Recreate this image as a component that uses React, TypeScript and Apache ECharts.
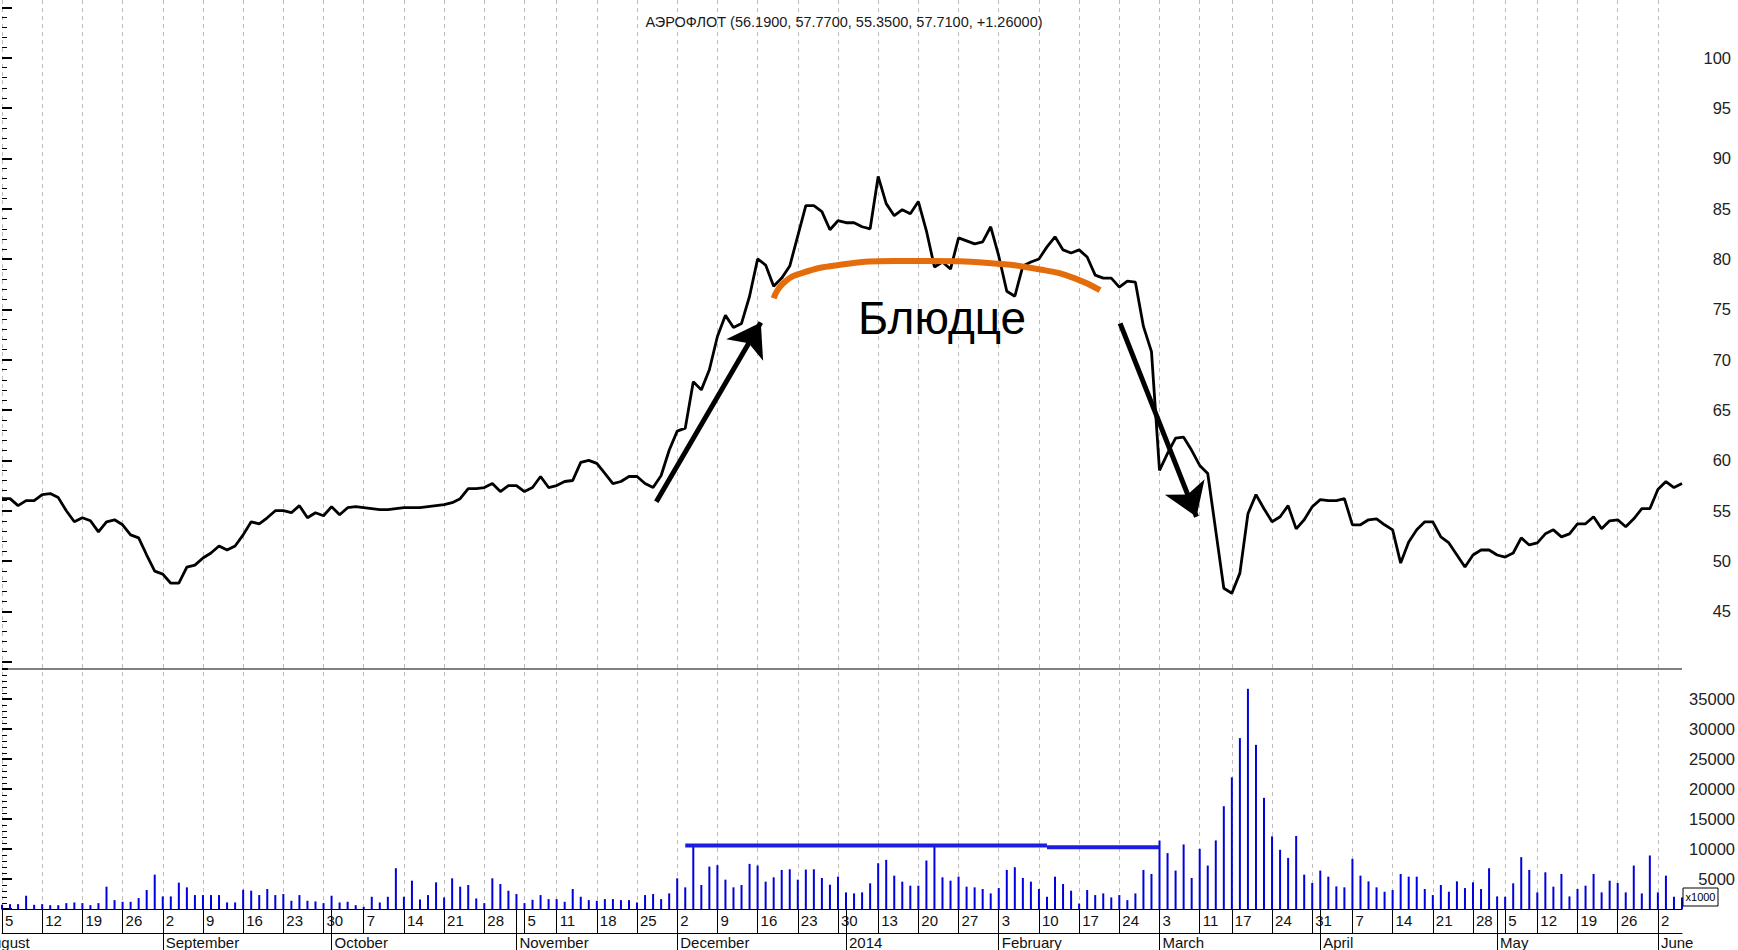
import React, { useEffect, useRef } from 'react';
import * as echarts from 'echarts';

// ---------- DATA ----------
const TITLE = 'АЭРОФЛОТ (56.1900, 57.7700, 55.3500, 57.7100, +1.26000)';

// trading days by month (Moscow Exchange calendar)
const monthDays: [string, number[]][] = [
  ['2013-08', [5, 6, 7, 8, 9, 12, 13, 14, 15, 16, 19, 20, 21, 22, 23, 26, 27, 28, 29, 30]],
  ['2013-09', [2, 3, 4, 5, 6, 9, 10, 11, 12, 13, 16, 17, 18, 19, 20, 23, 24, 25, 26, 27, 30]],
  ['2013-10', [1, 2, 3, 4, 7, 8, 9, 10, 11, 14, 15, 16, 17, 18, 21, 22, 23, 24, 25, 28, 29, 30, 31]],
  ['2013-11', [1, 5, 6, 7, 8, 11, 12, 13, 14, 15, 18, 19, 20, 21, 22, 25, 26, 27, 28, 29]],
  ['2013-12', [2, 3, 4, 5, 6, 9, 10, 11, 12, 13, 16, 17, 18, 19, 20, 23, 24, 25, 26, 27, 30]],
  ['2014-01', [3, 6, 9, 10, 13, 14, 15, 16, 17, 20, 21, 22, 23, 24, 27, 28, 29, 30, 31]],
  ['2014-02', [3, 4, 5, 6, 7, 10, 11, 12, 13, 14, 17, 18, 19, 20, 21, 24, 25, 26, 27, 28]],
  ['2014-03', [3, 4, 5, 6, 7, 11, 12, 13, 14, 17, 18, 19, 20, 21, 24, 25, 26, 27, 28, 31]],
  ['2014-04', [1, 2, 3, 4, 7, 8, 9, 10, 11, 14, 15, 16, 17, 18, 21, 22, 23, 24, 25, 28, 29, 30]],
  ['2014-05', [2, 5, 6, 7, 8, 12, 13, 14, 15, 16, 19, 20, 21, 22, 23, 26, 27, 28, 29, 30]],
  ['2014-06', [2, 3, 4, 5]],
];

// week tick labels (first trading day of each labelled week)
const weekStarts = [
  '2013-08-05', '2013-08-12', '2013-08-19', '2013-08-26', '2013-09-02', '2013-09-09', '2013-09-16',
  '2013-09-23', '2013-09-30', '2013-10-07', '2013-10-14', '2013-10-21', '2013-10-28', '2013-11-05',
  '2013-11-11', '2013-11-18', '2013-11-25', '2013-12-02', '2013-12-09', '2013-12-16', '2013-12-23',
  '2013-12-30', '2014-01-13', '2014-01-20', '2014-01-27', '2014-02-03', '2014-02-10', '2014-02-17',
  '2014-02-24', '2014-03-03', '2014-03-11', '2014-03-17', '2014-03-24', '2014-03-31', '2014-04-07',
  '2014-04-14', '2014-04-21', '2014-04-28', '2014-05-05', '2014-05-12', '2014-05-19', '2014-05-26',
  '2014-06-02',
];

const monthStarts: [string, string][] = [
  ['2013-09-02', 'September'], ['2013-10-01', 'October'], ['2013-11-01', 'November'],
  ['2013-12-02', 'December'], ['2014-01-03', '2014'], ['2014-02-03', 'February'],
  ['2014-03-03', 'March'], ['2014-04-01', 'April'], ['2014-05-02', 'May'], ['2014-06-02', 'June'],
];

// close prices
const prices = [
  56.2, 56.2, 55.5, 56.0, 56.0, 56.6, 56.7, 56.3, 55.0, 53.9,
  54.3, 54.0, 52.9, 53.9, 54.1, 53.6, 52.6, 52.3, 50.6, 49.0,
  48.7, 47.8, 47.8, 49.4, 49.6, 50.3, 50.8, 51.5, 51.1, 51.5,
  52.6, 53.9, 53.7, 54.3, 55.0, 55.0, 54.8, 55.5, 54.3, 54.8,
  54.5, 55.4, 54.6, 55.3, 55.4, 55.3, 55.2, 55.1, 55.1, 55.2,
  55.3, 55.3, 55.3, 55.4, 55.5, 55.6, 55.8, 56.2, 57.2, 57.2,
  57.3, 57.7, 56.9, 57.5, 57.5, 56.9, 57.3, 58.4, 57.3, 57.5,
  57.9, 58.0, 59.8, 60.0, 59.7, 58.7, 57.7, 57.9, 58.4, 58.4,
  57.7, 57.3, 58.5, 61.0, 62.9, 63.2, 67.8, 67.0, 69.0, 72.3,
  74.4, 73.2, 73.6, 76.3, 80.0, 79.4, 77.3, 78.1, 79.3, 82.3,
  85.3, 85.3, 84.7, 82.9, 83.8, 83.6, 83.6, 83.2, 83.0, 88.2,
  85.5, 84.3, 84.9, 84.5, 85.7, 82.8, 79.2, 79.7, 79.0, 82.1,
  81.8, 81.5, 81.7, 83.2, 80.3, 76.8, 76.3, 79.3, 79.7, 80.0,
  81.2, 82.2, 80.9, 80.6, 80.9, 80.2, 78.4, 78.1, 78.1, 77.2,
  77.8, 77.7, 73.3, 70.8, 59.0, 60.7, 62.2, 62.3, 61.0, 59.5,
  58.7, 53.0, 47.3, 46.8, 48.8, 54.7, 56.6, 55.2, 53.9, 54.4,
  55.5, 53.2, 54.1, 55.4, 56.1, 56.0, 56.0, 56.2, 53.6, 53.6,
  54.1, 54.2, 53.6, 53.1, 49.8, 51.9, 53.1, 53.9, 53.9, 52.4,
  51.8, 50.6, 49.4, 50.6, 51.1, 51.1, 50.6, 50.4, 50.8, 52.3,
  51.6, 51.8, 52.7, 53.1, 52.4, 52.7, 53.7, 53.7, 54.4, 53.2,
  54.0, 54.1, 53.4, 54.2, 55.2, 55.2, 57.1, 57.9, 57.3, 57.7,
];

// volume, x1000
const volumes = [
  700, 810, 810, 2210, 700, 810, 640, 640, 980, 1090,
  980, 640, 980, 3720, 1480, 1200, 1200, 1820, 3160, 5730,
  2100, 2100, 4390, 3610, 2320, 2320, 2320, 2320, 1090, 1090,
  3210, 3050, 2320, 3330, 2320, 2490, 1370, 2320, 1370, 1260,
  980, 2210, 1090, 1200, 640, 360, 2040, 1090, 2040, 6790,
  2040, 4720, 1590, 2320, 4440, 1930, 5110, 3720, 4000, 1760,
  980, 5110, 4160, 3050, 2490, 980, 1540, 2320, 1650, 1650,
  1200, 3330, 2040, 1480, 1370, 1650, 1650, 1480, 1480, 1090,
  2320, 2490, 1650, 2600, 5110, 3610, 10600, 4000, 7070, 7300,
  4890, 3610, 4000, 7520, 7240, 4560, 5280, 6510, 6620, 4890,
  6570, 6620, 5170, 4050, 5390, 2770, 2600, 2770, 4280, 7630,
  8190, 5560, 4560, 3890, 3890, 8080, 10600, 5280, 4720, 5390,
  3720, 3610, 3330, 2600, 3490, 6510, 6960, 5170, 4560, 3330,
  2040, 5390, 4160, 3050, 920, 3160, 2320, 2600, 1930, 2320,
  1480, 2600, 6510, 5840, 11400, 9310, 6400, 10760, 5170, 10030,
  7240, 11430, 17130, 21940, 28480, 36700, 27360, 18530, 12100, 9870,
  8520, 12160, 5730, 4330, 6400, 5390, 3770, 3610, 8360, 5560,
  4610, 3610, 2880, 3160, 5840, 5390, 5390, 3330, 2320, 4000,
  2880, 4610, 3490, 4440, 3330, 6790, 2100, 2040, 4280, 8640,
  6510, 2770, 6120, 3720, 5840, 2100, 3330, 3890, 5840, 2770,
  4720, 4330, 2770, 7240, 2600, 8920, 2770, 5560, 2040, 1930,
];

// horizontal volume levels drawn on the volume panel
const volumeLevels = [
  { from: '2013-12-03', to: '2014-02-11', value: 10600 },
  { from: '2014-02-11', to: '2014-03-03', value: 10300 },
];

// annotations in (trading-day index, price) units
const saucerArc: [number, number][] = [
  [96.0, 76.1], [97.2, 77.6], [99.5, 78.6], [104.1, 79.4], [111.1, 79.8],
  [115.7, 79.8], [122.7, 79.6], [129.6, 78.9], [133.4, 78.1], [136.6, 76.9],
];
const arrowLines: [number, number][][] = [
  [[81.4, 55.9], [94.4, 73.7]],
  [[139.1, 73.6], [148.6, 54.4]],
];
const SAUCER_LABEL = 'Блюдце';

// ---------- CHART ----------
const FONT = '"Liberation Sans", Arial, Helvetica, sans-serif';

export default function App() {
  const ref = useRef<HTMLDivElement>(null);

  useEffect(() => {
    if (!ref.current) return;
    const chart = echarts.init(ref.current, null, { renderer: 'svg' });

    const tradingDays: string[] = [];
    monthDays.forEach(([ym, days]) => days.forEach((d) => tradingDays.push(`${ym}-${String(d).padStart(2, '0')}`)));
    const weekSet = new Set(weekStarts);
    const monthMap = new Map(monthStarts);
    const isWeek = (i: number) => weekSet.has(tradingDays[i]);
    const isMonth = (i: number) => monthMap.has(tradingDays[i]);
    const idx = (d: string) => tradingDays.indexOf(d);
    const last = tradingDays.length - 1;

    const hiddenCat = (grid: number) => ({
      gridIndex: grid, type: 'category', data: tradingDays, boundaryGap: false, show: false,
    });
    const hiddenVal = (grid: number) => ({ gridIndex: grid, type: 'value', min: 0, max: last, show: false });

    const centerText = (x: number, y: number, text: string, font: string, fill: string) => ({
      type: 'text', x, y, z: 100,
      style: { text, font, fill, textAlign: 'center', align: 'center', textVerticalAlign: 'middle', verticalAlign: 'middle' },
    });

    const option: any = {
      animation: false,
      backgroundColor: '#ffffff',
      grid: [
        { left: 2, right: 56, top: 0, bottom: 41 },
        { left: 2, right: 56, top: 7.25, height: 654.5 },
        { left: 2, right: 56, top: 669, height: 240 },
      ],
      xAxis: [
        {
          gridIndex: 0, type: 'category', data: tradingDays, boundaryGap: false, position: 'bottom',
          axisLine: { show: true, onZero: false, lineStyle: { color: '#000', width: 1 } },
          axisTick: { show: true, interval: (i: number) => isWeek(i), length: 24, lineStyle: { color: '#000', width: 1 } },
          axisLabel: {
            interval: (i: number) => isWeek(i), formatter: (v: string) => String(Number(v.slice(8))),
            align: 'left', margin: 4, padding: [0, 0, 0, 3], fontFamily: FONT, fontSize: 15, color: '#111',
            showMinLabel: true, showMaxLabel: true,
          },
          splitLine: { show: true, interval: (i: number) => isWeek(i), lineStyle: { color: '#bdbdbd', width: 1, type: [4, 4] } },
        },
        {
          gridIndex: 0, type: 'category', data: tradingDays, boundaryGap: false, position: 'bottom', offset: 0,
          axisLine: { show: false, onZero: false },
          axisTick: { show: true, interval: (i: number) => isMonth(i), length: 41, lineStyle: { color: '#000', width: 1 } },
          axisLabel: {
            interval: (i: number) => isMonth(i), formatter: (v: string) => monthMap.get(v) || '',
            align: 'left', margin: 26, padding: [0, 0, 0, 3], fontFamily: FONT, fontSize: 15, color: '#111',
            showMinLabel: true, showMaxLabel: true,
          },
          splitLine: { show: false },
        },
        {
          gridIndex: 0, type: 'category', data: tradingDays, boundaryGap: false, position: 'bottom', offset: 24,
          axisLine: { show: true, onZero: false, lineStyle: { color: '#000', width: 1 } },
          axisTick: { show: false }, axisLabel: { show: false }, splitLine: { show: false },
        },
        hiddenCat(1),
        hiddenVal(1),
        hiddenCat(2),
        hiddenVal(2),
      ],
      yAxis: [
        { gridIndex: 0, type: 'value', min: 0, max: 1, show: false },
        {
          gridIndex: 1, type: 'value', position: 'right', min: 40, max: 105, interval: 5,
          axisLine: { show: false },
          axisTick: { show: true, length: 10, lineStyle: { color: '#000', width: 2 } },
          minorTick: { show: true, splitNumber: 5, length: 5, lineStyle: { color: '#000', width: 1 } },
          splitLine: { show: false },
          axisLabel: {
            formatter: (v: number) => (v < 45 || v > 100 ? '' : String(v)),
            align: 'right', margin: 49, fontFamily: FONT, fontSize: 16.5, color: '#222',
          },
        },
        {
          gridIndex: 2, type: 'value', position: 'right', min: 0, max: 40000, interval: 5000,
          axisLine: { show: false },
          axisTick: { show: true, length: 10, lineStyle: { color: '#000', width: 2 } },
          minorTick: { show: true, splitNumber: 5, length: 5, lineStyle: { color: '#000', width: 1 } },
          splitLine: { show: false },
          axisLabel: {
            formatter: (v: number) => (v < 5000 || v > 35000 ? '' : String(v)),
            align: 'right', margin: 53, fontFamily: FONT, fontSize: 16.5, color: '#222',
          },
        },
      ],
      series: [
        {
          type: 'bar', xAxisIndex: 5, yAxisIndex: 2, data: volumes, barWidth: 2,
          itemStyle: { color: '#0000e0' }, silent: true,
        },
        ...volumeLevels.map((l) => ({
          type: 'line', xAxisIndex: 6, yAxisIndex: 2,
          data: [[idx(l.from), l.value], [idx(l.to), l.value]],
          symbol: 'none', lineStyle: { color: '#1d1de0', width: 4 }, silent: true, z: 3,
        })),
        {
          type: 'line', xAxisIndex: 3, yAxisIndex: 1, data: prices, symbol: 'none',
          lineStyle: { color: '#000', width: 2.8 }, silent: true, z: 3,
        },
        {
          type: 'line', xAxisIndex: 4, yAxisIndex: 1, data: saucerArc, smooth: 0.5, symbol: 'none',
          lineStyle: { color: '#e46c0a', width: 6 }, silent: true, z: 4,
        },
        {
          type: 'lines', coordinateSystem: 'cartesian2d', xAxisIndex: 4, yAxisIndex: 1,
          data: arrowLines.map((c) => ({ coords: c })),
          symbol: ['none', 'arrow'], symbolSize: 32,
          lineStyle: { color: '#000', width: 5, opacity: 1, curveness: 0 }, silent: true, z: 5,
        },
      ],
      graphic: [
        centerText(844, 22, TITLE, `14.5px ${FONT}`, '#1a1a1a'),
        centerText(942, 318, SAUCER_LABEL, `46px ${FONT}`, '#000'),
        { type: 'line', shape: { x1: 8, y1: 669, x2: 1682, y2: 669 }, style: { stroke: '#808080', lineWidth: 2 }, z: 50 },
        { type: 'rect', shape: { x: 1683, y: 888, width: 35, height: 18 }, style: { fill: '#fff', stroke: '#000', lineWidth: 1 }, z: 50 },
        centerText(1700.5, 897, 'x1000', `11px ${FONT}`, '#000'),
        {
          type: 'text', x: -17, y: 935, z: 50,
          style: { text: 'August', font: `15px ${FONT}`, fill: '#111', textVerticalAlign: 'top', verticalAlign: 'top' },
        },
      ],
    };

    chart.setOption(option);
    return () => chart.dispose();
  }, []);

  return (
    <div
      ref={ref}
      style={{ position: 'absolute', left: 0, top: 0, width: 1738, height: 950, background: '#fff' }}
    />
  );
}
